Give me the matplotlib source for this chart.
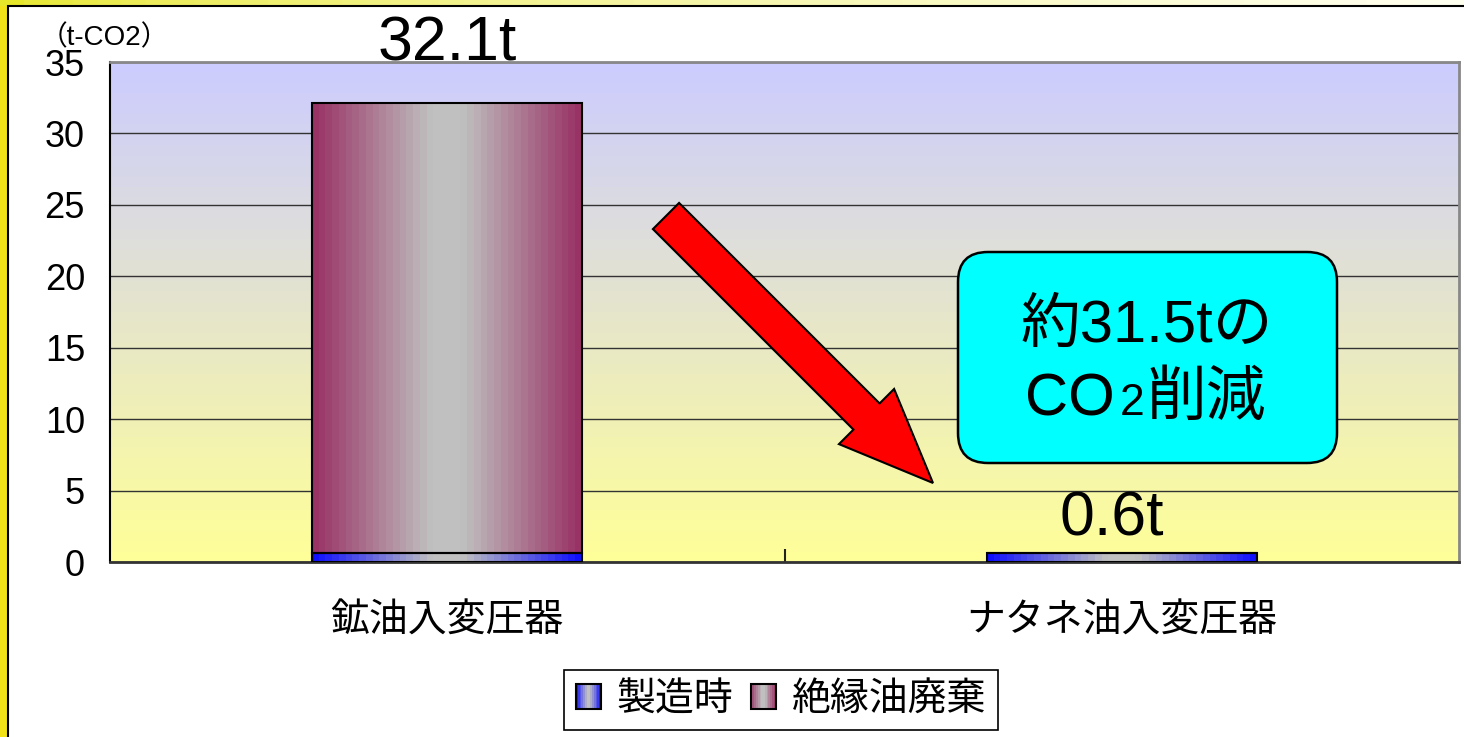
import numpy as np
import matplotlib
matplotlib.use("Agg")
import matplotlib.pyplot as plt
from matplotlib.colors import to_rgb
from matplotlib.patches import Rectangle, Patch, FancyArrow, FancyBboxPatch
from matplotlib.legend_handler import HandlerBase

plt.rcParams['font.family'] = ['Liberation Sans', 'Noto Sans CJK JP']

# data
categories = ['鉱油入変圧器', 'ナタネ油入変圧器']
manufacturing = [0.6, 0.6]
oil_disposal = [31.5, 0.0]
series_names = ['製造時', '絶縁油廃棄']
y_ticks = [0, 5, 10, 15, 20, 25, 30, 35]
unit_label = '（t-CO2）'
callout_line1 = '約31.5tの'

W, H = 1464, 737
GREY = '#C0C0C0'
BLUE = '#1010FF'
MAROON = '#993366'


def mix(c1, c2, s):
    a, b = np.array(to_rgb(c1)), np.array(to_rgb(c2))
    return tuple(a * (1 - s) + b * s)


def edge_weight(s):
    # 0 in the middle of the bar, 1 at its edges
    return np.clip((np.abs(s) - 0.12) / 0.88, 0, 1)


def fill_gradient(ax, patch, edge):
    x0, y0 = patch.get_x(), patch.get_y()
    w, h = patch.get_width(), patch.get_height()
    if h <= 0:
        return
    t = edge_weight(np.linspace(-1, 1, 40))
    row = np.array([mix(GREY, edge, v) for v in t])
    ax.imshow(row[None, :, :], extent=(x0, x0 + w, y0, y0 + h), aspect='auto',
              interpolation='nearest', zorder=2)


class GradientSquare(HandlerBase):
    def create_artists(self, legend, orig_handle, xdescent, ydescent,
                       width, height, fontsize, trans):
        edge = orig_handle.get_facecolor()
        n = 14
        arts = []
        for i in range(n):
            s = (i + 0.5) / n * 2 - 1
            arts.append(Rectangle((-xdescent + i * width / n, -ydescent), width / n, height,
                                  facecolor=mix(GREY, edge, float(edge_weight(s))),
                                  edgecolor='none', transform=trans))
        arts.append(Rectangle((-xdescent, -ydescent), width, height, fill=False,
                              edgecolor='black', lw=1.5, transform=trans))
        return arts


fig = plt.figure(figsize=(W / 100, H / 100), dpi=100)
fig.patch.set_facecolor('white')

# yellow slide background peeking out on the left and top
fig.add_artist(Rectangle((0, 0), 8 / W, 1, transform=fig.transFigure,
                         facecolor='#F2E21A', edgecolor='none', zorder=-5))
top = fig.add_axes([0, 1 - 6 / H, 1, 6 / H], zorder=-5)
strip = np.array([mix('#E6E62A', '#FFFFF0', s) for s in np.linspace(0, 1, 60) ** 0.6])
top.imshow(strip[None, :, :], aspect='auto', extent=(0, 1, 0, 1))
top.axis('off')
fig.add_artist(Rectangle((8 / W, -0.05), 1.2, 1 - 6 / H + 0.05, transform=fig.transFigure,
                         facecolor='none', edgecolor='black', lw=1.5, zorder=-4))

ax = fig.add_axes([110 / W, 1 - 562 / H, (1459 - 110) / W, 500 / H])
x = np.arange(len(categories))

# stepped lavender -> yellow plot background
steps = 48
bg = np.array([mix('#FFFF99', '#CCCCFF', s) for s in np.linspace(0, 1, steps)])[::-1]
ax.imshow(bg[:, None, :], extent=(-0.5, 1.5, 0, 35), aspect='auto',
          interpolation='nearest', zorder=0)

b1 = ax.bar(x, manufacturing, width=0.4, facecolor='none', edgecolor='black', lw=1.5, zorder=3)
b2 = ax.bar(x, oil_disposal, width=0.4, bottom=manufacturing, facecolor='none',
            edgecolor='black', lw=1.5, zorder=3)
for p in b1.patches:
    fill_gradient(ax, p, BLUE)
for p in b2.patches:
    fill_gradient(ax, p, MAROON)

totals = [m + o for m, o in zip(manufacturing, oil_disposal)]
label_offsets = [(0, 43), (-10, 18)]
for i, tot in enumerate(totals):
    ax.annotate(f'{tot:.1f}t', xy=(x[i], tot), xytext=label_offsets[i],
                textcoords='offset pixels', ha='center', va='baseline', fontsize=45)

ax.set_xlim(-0.5, 1.5)
ax.set_ylim(0, 35)
ax.set_yticks(y_ticks)
ax.set_axisbelow(True)
ax.yaxis.grid(True, color='#333333', lw=1)
ax.tick_params(axis='y', length=0, pad=18, labelsize=26)
ax.set_xticks(x, categories)
ax.tick_params(axis='x', length=0, pad=30, labelsize=28)
ax.set_xticks([0.5], minor=True)
ax.tick_params(axis='x', which='minor', direction='in', length=9.5, width=1.5, color='#222222')

ax.spines['left'].set_color('black')
ax.spines['left'].set_linewidth(1.5)
ax.spines['bottom'].set_color('#333333')
ax.spines['bottom'].set_linewidth(2)
for s in ('top', 'right'):
    ax.spines[s].set_color('#888888')
    ax.spines[s].set_linewidth(2)

fig.text(0.40, (H - 45) / 100, unit_label, transform=fig.dpi_scale_trans,
         fontsize=20, ha='left', va='baseline')

# red arrow and cyan callout (in inches, 1 px = 0.01 in)
arrow = FancyArrow(6.66, (H - 216) / 100, 2.67, -2.67, width=0.37, head_width=0.78,
                   head_length=0.94, length_includes_head=True, transform=fig.dpi_scale_trans,
                   facecolor='#FF0000', edgecolor='black', lw=1.5, zorder=5)
fig.add_artist(arrow)

box = FancyBboxPatch((9.58, (H - 463) / 100), 3.79, 2.11,
                     boxstyle='round,pad=0,rounding_size=0.3', transform=fig.dpi_scale_trans,
                     facecolor='#00FFFF', edgecolor='black', lw=1.8, zorder=5)
fig.add_artist(box)
fig.text(11.47, (H - 342) / 100, callout_line1, transform=fig.dpi_scale_trans,
         fontsize=43, ha='center', va='baseline', zorder=6)
fig.text(10.25, (H - 415) / 100, 'CO', transform=fig.dpi_scale_trans,
         fontsize=43, ha='left', va='baseline', zorder=6)
fig.text(11.20, (H - 415) / 100, '2', transform=fig.dpi_scale_trans,
         fontsize=32, ha='left', va='baseline', zorder=6)
fig.text(11.46, (H - 415) / 100, '削減', transform=fig.dpi_scale_trans,
         fontsize=43, ha='left', va='baseline', zorder=6)

handles = [Patch(facecolor=BLUE), Patch(facecolor=MAROON)]
leg = fig.legend(handles, series_names, loc='center', bbox_to_anchor=(781 / W, 1 - 700 / H),
                 ncol=2, fontsize=28, handler_map={Patch: GradientSquare()},
                 handlelength=0.64, handleheight=0.64, handletextpad=0.41,
                 columnspacing=0.44, borderpad=0.3, frameon=True, fancybox=False,
                 framealpha=1, edgecolor='black')
leg.get_frame().set_linewidth(1.2)

fig.savefig('out.png', dpi=100)
